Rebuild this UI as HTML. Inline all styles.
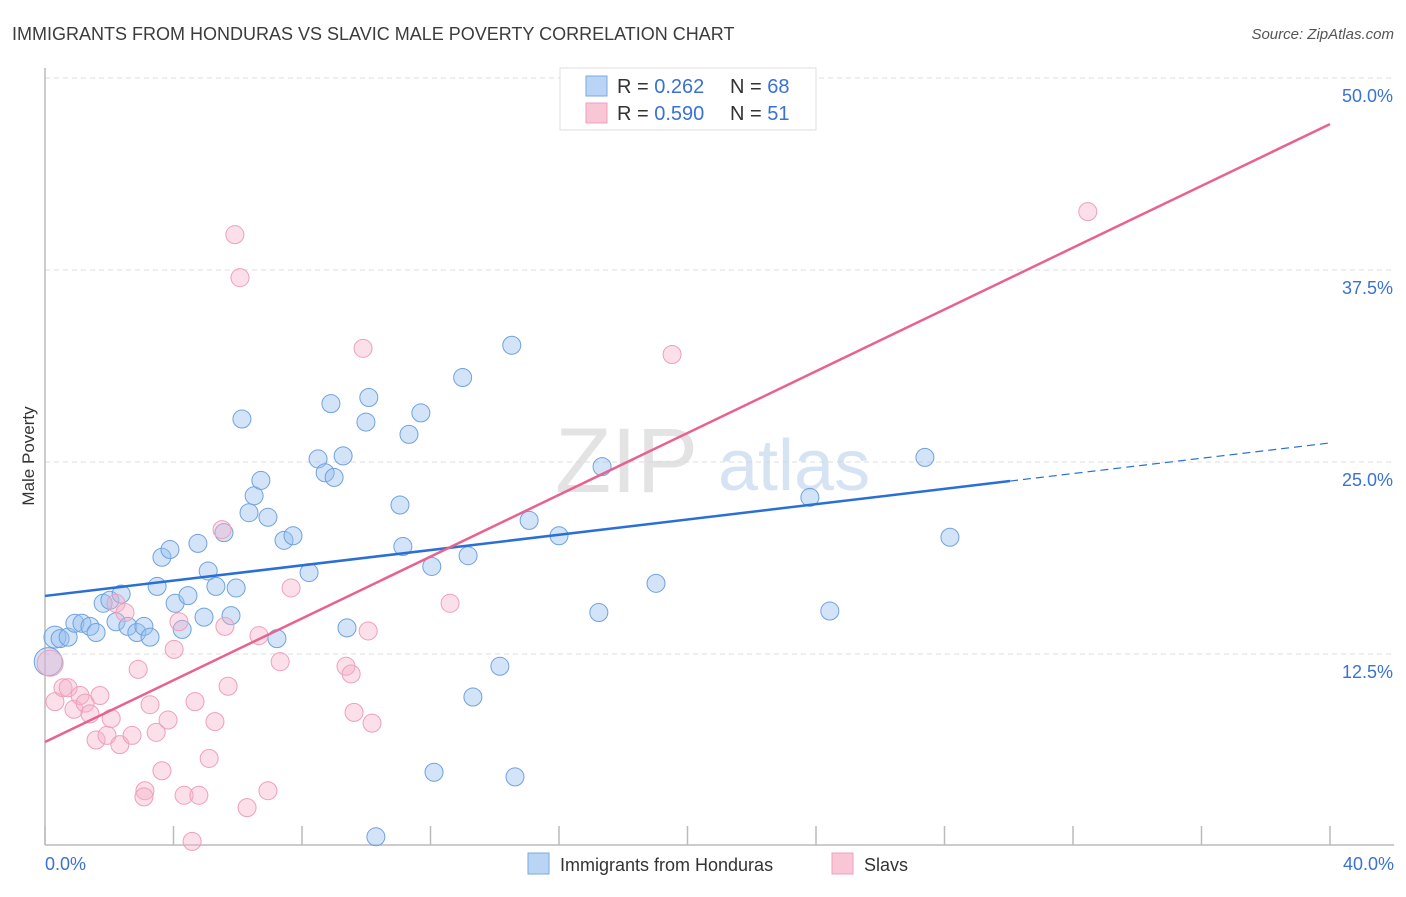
<!DOCTYPE html>
<html><head><meta charset="utf-8"><style>
body{margin:0;background:#fff;font-family:"Liberation Sans",sans-serif}
svg text{font-family:"Liberation Sans",sans-serif}
</style></head><body>
<svg width="1406" height="892" viewBox="0 0 1406 892" xmlns="http://www.w3.org/2000/svg">
<text x="12" y="40" font-size="18" fill="#3c3c3c">IMMIGRANTS FROM HONDURAS VS SLAVIC MALE POVERTY CORRELATION CHART</text>
<text x="1394" y="39" font-size="15" fill="#555" text-anchor="end" font-style="italic">Source: ZipAtlas.com</text>
<g id="grid"></g>
<g><text x="555" y="492" font-size="92" fill="#d8d8d8" font-family="Liberation Serif" opacity="0.7">ZIP</text><text x="718" y="490" font-size="72" fill="#c6d8ee" opacity="0.7">atlas</text></g>
<g id="axes"></g>
<g id="pts"></g>
<g id="lines"></g>
<text transform="translate(34,456) rotate(-90)" font-size="17" fill="#333" text-anchor="middle">Male Poverty</text>
<g>
<rect x="560" y="68" width="256" height="62" fill="#fff" stroke="#ddd"/>
<rect x="586" y="76" width="21" height="20" fill="#b9d4f5" stroke="#7aaae0"/>
<rect x="586" y="103" width="21" height="20" fill="#f9c6d6" stroke="#f0a0bb"/>
<text x="617" y="93" font-size="20" fill="#333">R = <tspan fill="#3a72d4">0.262</tspan></text>
<text x="730" y="93" font-size="20" fill="#333">N = <tspan fill="#3a72d4">68</tspan></text>
<text x="617" y="120" font-size="20" fill="#333">R = <tspan fill="#3a72d4">0.590</tspan></text>
<text x="730" y="120" font-size="20" fill="#333">N = <tspan fill="#3a72d4"> 51</tspan></text>
</g>
<g>
<rect x="528" y="853" width="21" height="21" fill="#b9d4f5" stroke="#7aaae0"/>
<text x="560" y="871" font-size="18" fill="#333">Immigrants from Honduras</text>
<rect x="832" y="853" width="21" height="21" fill="#f9c6d6" stroke="#f0a0bb"/>
<text x="864" y="871" font-size="18" fill="#333">Slavs</text>
</g>
</svg>
<script>
const yTicks=[12.5,25,37.5,50];
const yTickLabels=["12.5%","25.0%","37.5%","50.0%"];
const xTicks=[0,4,8,12,16,20,24,28,32,36,40];
const blueX=[0.31,0.47,0.72,0.93,1.15,1.4,1.59,1.81,2.02,2.21,2.37,2.58,2.86,3.08,3.27,3.49,3.64,3.89,4.05,4.27,4.45,4.76,4.95,5.08,5.32,5.57,5.79,5.95,6.13,6.35,6.51,6.72,6.94,7.22,7.44,7.72,8.22,8.5,8.72,8.9,9.0,9.28,9.4,9.99,10.08,11.05,11.14,11.33,11.7,12.04,12.11,13.0,13.17,13.32,14.16,14.53,14.63,15.07,16.0,10.3,17.24,17.34,19.02,23.81,24.43,27.39,28.17,0.1];
const blueY=[13.6,13.5,13.6,14.5,14.5,14.3,13.9,15.8,16.0,14.6,16.4,14.3,13.9,14.3,13.6,16.9,18.8,19.3,15.8,14.1,16.3,19.7,14.9,17.9,16.9,20.4,15.0,16.8,27.8,21.7,22.8,23.8,21.4,13.5,19.9,20.2,17.8,25.2,24.3,28.8,24.0,25.4,14.2,27.6,29.2,22.2,19.5,26.8,28.2,18.2,4.8,30.5,18.9,9.7,11.7,32.6,4.5,21.2,20.2,0.6,15.2,24.7,17.1,22.7,15.3,25.3,20.1,12.0];
const pinkX=[0.16,0.31,0.56,0.72,0.9,1.09,1.25,1.4,1.59,1.71,1.93,2.06,2.21,2.33,2.49,2.71,2.9,3.11,3.08,3.27,3.46,3.64,3.83,4.02,4.17,4.33,4.58,4.67,4.79,5.11,5.29,5.51,5.6,5.7,5.91,6.07,6.29,6.66,6.94,7.32,7.66,9.37,9.53,9.62,9.9,10.06,10.18,12.61,19.52,32.46];
const pinkY=[11.9,9.4,10.3,10.3,8.9,9.8,9.3,8.6,6.9,9.8,7.2,8.3,15.8,6.6,15.2,7.2,11.5,3.6,3.2,9.2,7.4,4.9,8.2,12.8,14.6,3.3,0.3,9.4,3.3,5.7,8.1,20.6,14.3,10.4,39.8,37.0,2.5,13.7,3.6,12.0,16.8,11.7,11.2,8.7,32.4,14.0,8.0,15.8,32.0,41.3];
const blueLine=[16.28,26.24], blueSolidEnd=30.04;
const pinkLine=[6.77,47.0];
const NS="http://www.w3.org/2000/svg";
const sx=v=>45+v/40*1285, sy=v=>846-v*15.36;
function mk(tag,attrs,parent){const e=document.createElementNS(NS,tag);for(const k in attrs)e.setAttribute(k,attrs[k]);parent.appendChild(e);return e;}
const grid=document.getElementById('grid'),axes=document.getElementById('axes'),pts=document.getElementById('pts'),lines=document.getElementById('lines');
yTicks.forEach((t,i)=>{
 const l=mk('line',{x1:45,x2:1394,y1:sy(t),y2:sy(t),stroke:'#dcdcdc','stroke-dasharray':'5,4'},grid);
 
 
 const tx=mk('text',{x:1393,y:sy(t)+24,'font-size':18,fill:'#3a72d4','text-anchor':'end'},grid);
 tx.textContent=yTickLabels[i];
 
 
});
const ax=mk('line',{x1:45,x2:1394,y1:845,y2:845,stroke:'#bbb','stroke-width':1.5},axes);


const ay=mk('line',{x1:45,x2:45,y1:68,y2:845,stroke:'#bbb','stroke-width':1.5},axes);


xTicks.forEach(t=>{
 const l=mk('line',{x1:sx(t),x2:sx(t),y1:826,y2:845,stroke:'#bbb','stroke-width':1.5},axes);
 
 
});
const x0=mk('text',{x:45,y:870,'font-size':18,fill:'#3a72d4'},axes);x0.textContent='0.0%';


const x1=mk('text',{x:1394,y:870,'font-size':18,fill:'#3a72d4','text-anchor':'end'},axes);x1.textContent='40.0%';


blueX.forEach((v,i)=>{
 const big=i===blueX.length-1||i===0;
 const c=mk('circle',{cx:sx(v),cy:sy(blueY[i]),r:big?(i===0?11:14):9,fill:'rgba(150,190,238,0.42)',stroke:'#6fa2e0','stroke-width':1},pts);
 
 
});
pinkX.forEach((v,i)=>{
 const c=mk('circle',{cx:sx(v),cy:sy(pinkY[i]),r:i===0?13:9,fill:'rgba(246,175,200,0.4)',stroke:'#eea0ba','stroke-width':1},pts);
 
 
});
const bf=x=>blueLine[0]+(blueLine[1]-blueLine[0])*x/40;
const b1=mk('line',{x1:sx(0),y1:sy(bf(0)),x2:sx(blueSolidEnd),y2:sy(bf(blueSolidEnd)),stroke:'#2a6fd6','stroke-width':2.5},lines);


const b2=mk('line',{x1:sx(blueSolidEnd),y1:sy(bf(blueSolidEnd)),x2:sx(40),y2:sy(bf(40)),stroke:'#2a6fd6','stroke-width':1.2,'stroke-dasharray':'8,5'},lines);


const p1=mk('line',{x1:sx(0),y1:sy(pinkLine[0]),x2:sx(40),y2:sy(pinkLine[1]),stroke:'#e8628e','stroke-width':2.5},lines);


</script>
</body></html>
